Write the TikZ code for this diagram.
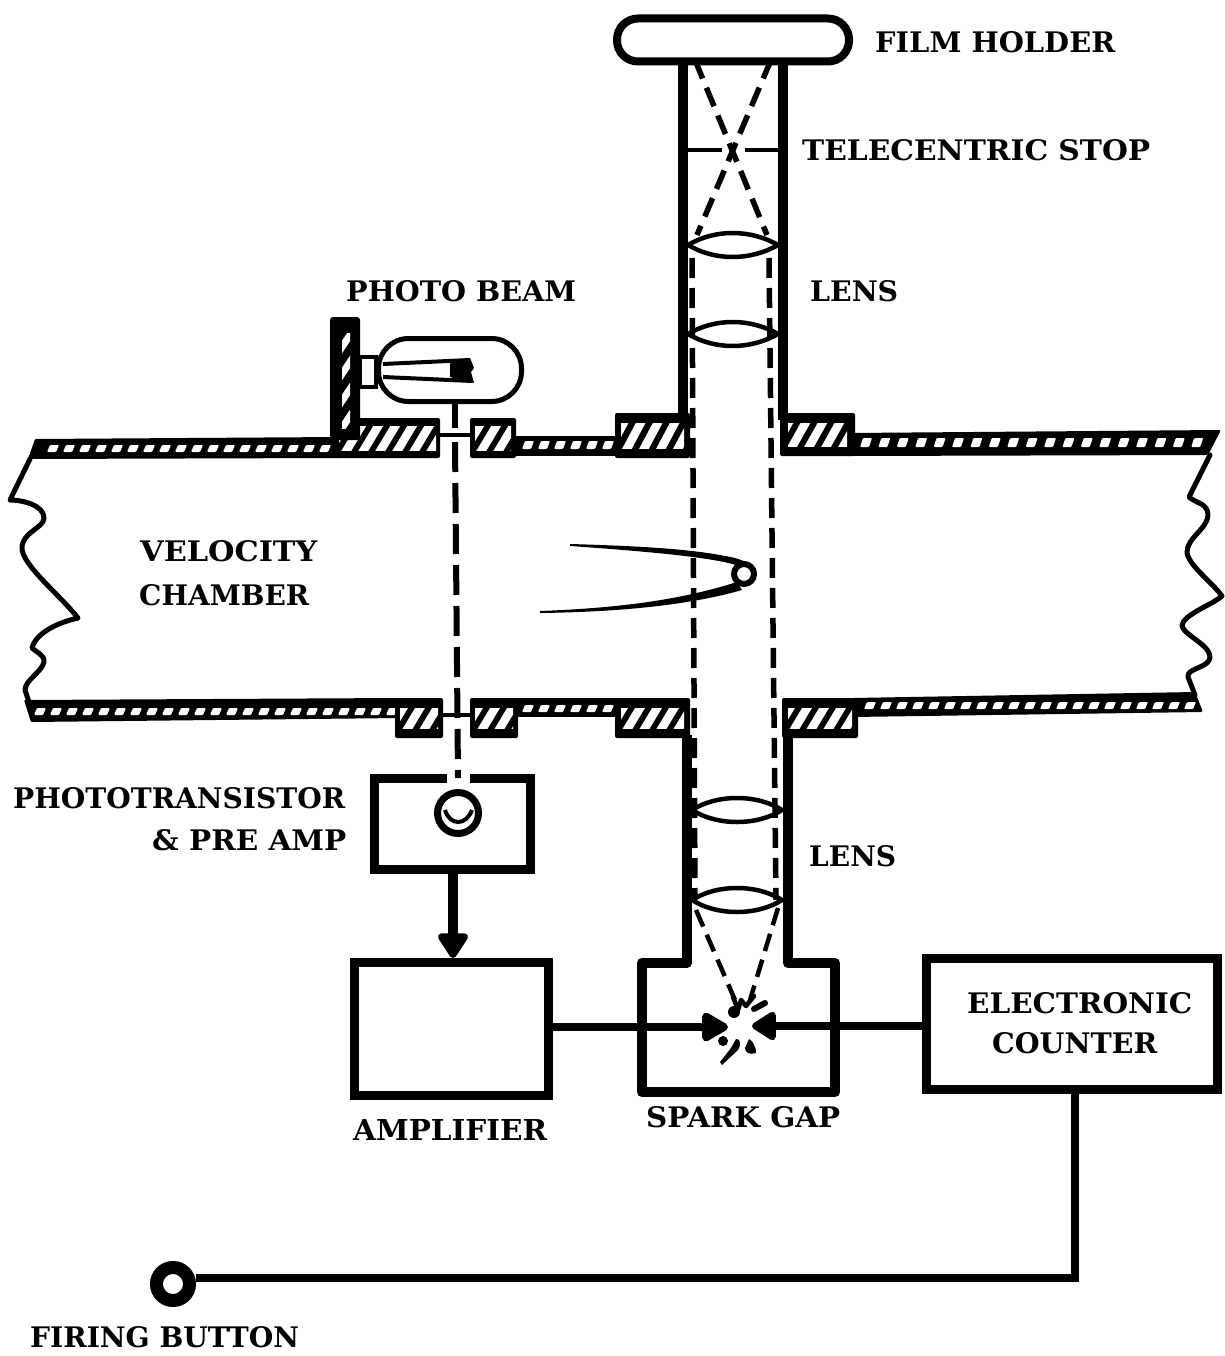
\documentclass[tikz,border=0pt]{standalone}
\usepackage{fontspec}
\setmainfont{DejaVu Serif}
\usetikzlibrary{arrows.meta,calc}
\tikzset{
  wall/.style={line width=10pt,line join=round,line cap=butt},
  boxx/.style={draw,line width=9pt,inner sep=0pt,minimum width=#1},
  beam/.style={line width=6pt,dash pattern=on 30pt off 11pt},
  ray/.style={line width=5.5pt,dash pattern=on 20pt off 10pt},
  wire/.style={line width=8.5pt},
  lab/.style={inner sep=0pt,anchor=west,font=\bfseries},
  lensp/.style={draw,line width=4.5pt,fill=white},
  brk/.style={line width=5pt,line join=round,line cap=round},
}
% label of a given width, real text
\newcommand{\fitlab}[2]{\resizebox{#1pt}{21pt}{#2}}
% black block with white slanted stripes: x0 y0 x1 y1 (outer), inset x, inset y, spacing, white stripe width
\newcommand{\hatchbar}[8]{%
  \fill[black,rounded corners=2pt] (#1,#2) rectangle (#3,#4);
  \begin{scope}
    \clip (#1+#5,#2+#6) rectangle (#3-#5,#4-#6);
    \pgfmathtruncatemacro\hn{(#3-#1)/#7+2}
    \foreach \hi in {0,...,\hn}
      \draw[white,line width=#8pt] ({#1+\hi*#7-10},#4) -- ({#1+\hi*#7+14},#2);
  \end{scope}}
% white dashes in a wall band: first x, count, spacing, inner top, inner bottom
\newcommand{\stripes}[5]{%
  \foreach \si in {0,...,#2}
    \fill[white,rounded corners=1pt] ({#1+\si*#3},#5) -- ({#1+\si*#3+3},#4) -- ({#1+\si*#3+12},#4) -- ({#1+\si*#3+9},#5) -- cycle;}
\begin{document}
\begin{tikzpicture}[x=1pt,y=-1pt]
\useasboundingbox (0,0) rectangle (1224,1356);
\fill[white] (0,0) rectangle (1224,1356);

% --- chamber walls (upper)
\fill[rounded corners=1pt] (35,439) -- (340,437) -- (340,458) -- (28,459) -- cycle;
\stripes{47}{17}{16}{445}{452}
\fill (510,436) rectangle (620,456);
\stripes{522}{5}{16}{441}{449}
\fill[rounded corners=2pt] (850,433) -- (1221,430) -- (1208,455) -- (850,456) -- cycle;
\stripes{860}{18}{18.4}{438}{447}
% --- chamber walls (lower)
\fill[rounded corners=1pt] (24,700) -- (400,698) -- (400,718) -- (31,722) -- cycle;
\stripes{34}{22}{16}{708}{715}
\fill (512,698) rectangle (620,717);
\stripes{522}{5}{16}{705}{712}
\fill[rounded corners=2pt] (852,698) -- (1195,692) -- (1203,712) -- (852,717) -- cycle;
\stripes{864}{20}{16}{702}{709}

% --- collars upper
\hatchbar{335}{418}{440}{458}{4}{8}{17}{8.5}
\hatchbar{470}{418}{516}{458}{5}{8}{17}{8.5}
\hatchbar{615}{413}{690}{458}{6}{10}{17}{8.5}
\hatchbar{780}{413}{855}{456}{8}{10}{17}{8.5}
% --- collars lower
\hatchbar{395}{698}{443}{738}{5}{10}{17}{8.5}
\hatchbar{470}{698}{518}{738}{5}{10}{17}{8.5}
\hatchbar{615}{698}{690}{738}{6}{10}{17}{8.5}
\hatchbar{782}{698}{858}{738}{6}{10}{17}{8.5}
% slits
\draw[line width=4pt] (440,435) -- (470,435);
\draw[line width=4pt] (443,715) -- (470,715);

% chamber broken ends
\draw[brk] (30,459) -- (10,500) .. controls (22,500) and (44,505) .. (44,518)
  .. controls (44,528) and (22,532) .. (22,548) .. controls (22,565) and (60,595) .. (78,618)
  .. controls (60,622) and (36,632) .. (32,648) .. controls (36,652) and (45,655) .. (44,662)
  .. controls (42,672) and (25,680) .. (25,690) -- (29,702);
\draw[brk] (1210,455) -- (1189,497) .. controls (1195,503) and (1208,503) .. (1208,515)
  .. controls (1208,528) and (1187,538) .. (1187,552) .. controls (1188,565) and (1210,580) .. (1222,596)
  .. controls (1212,605) and (1182,615) .. (1182,626) .. controls (1184,635) and (1210,645) .. (1210,657)
  .. controls (1210,668) and (1186,668) .. (1188,677) -- (1195,695);

% --- upper tube
\draw[wall] (683,64) -- (683,420);
\draw[wall] (783,64) -- (783,420);
\draw[line width=4pt] (688,150) -- (722,150) (745,150) -- (778,150);
% lower tube
\draw[wall] (687,735) -- (687,963) -- (642,963) -- (642,1092) -- (835,1092) -- (835,963) -- (788,963) -- (788,735);

% --- lenses
\path[lensp] (688,245) .. controls (715,229) and (750,229) .. (778,245) .. controls (750,261) and (715,261) .. (688,245);
\path[lensp] (688,334) .. controls (715,318) and (750,318) .. (778,334) .. controls (750,350) and (715,350) .. (688,334);
\path[lensp] (692,810) .. controls (717,794) and (757,794) .. (782,810) .. controls (757,826) and (717,826) .. (692,810);
\path[lensp] (692,900) .. controls (717,884) and (757,884) .. (782,900) .. controls (757,916) and (717,916) .. (692,900);

% --- rays
\draw[ray] (695,60) -- (767,235);
\draw[ray] (771,60) -- (697,235);
\draw[ray] (692,258) -- (695,900);
\draw[ray] (769,258) -- (776,900);
\draw[ray,line width=4.5pt,dash pattern=on 18pt off 9pt] (696,910) -- (735,1000);
\draw[ray,line width=4.5pt,dash pattern=on 18pt off 9pt] (778,908) -- (750,1000);

% --- film holder
\node[draw,line width=8pt,rounded corners=21pt,minimum width=232pt,minimum height=43pt,inner sep=0pt,fill=white] (film) at (733,40) {};

% --- lamp
\fill[rounded corners=3pt] (330,317) rectangle (360,440);
\begin{scope}
  \clip (342,333) rectangle (350,428);
  \foreach \hy in {335,362,...,440} \draw[white,line width=7pt] (338,\hy+18) -- (354,\hy-6);
\end{scope}
\draw[line width=4pt,fill=white] (360,357) rectangle (376,387);
\node[draw,line width=5pt,rounded corners=30pt,minimum width=143pt,minimum height=63pt,inner sep=0pt,fill=white] (bulb) at (450,370) {};
\draw[line width=4pt] (383,364) -- (470,360);
\draw[line width=4pt] (383,377) -- (472,381);
\fill (450,361) -- (470,358) -- (474,368) -- (471,372) -- (474,383) -- (450,377) -- cycle;
\coordinate (beamstart) at (455,402);
\coordinate (beamend) at (458,778);
\draw[line width=6pt] (beamstart) -- (455,428);
\draw[beam] (455,442) -- (beamend);

% --- phototransistor box (gap at the top)
\draw[line width=9pt,line join=miter] (447,778) -- (374,778) -- (374,869) -- (530,869) -- (530,778) -- (470,778);
\coordinate (ptbot) at (453,869);
\node[circle,draw,line width=7pt,minimum size=41pt,inner sep=0pt] (pt) at (458,813) {};
\draw[line width=4pt] (445,810) .. controls (450,826) and (466,826) .. (472,810);

% --- boxes
\node[boxx=194pt,minimum height=133pt] (amp) at (451.5,1029) {};
\node[boxx=291pt,minimum height=131pt] (counter) at (1072,1024) {};
\node[circle,draw,line width=13pt,minimum size=33pt,inner sep=0pt] (fire) at (173,1284) {};

% --- connectors
\draw[line width=10pt,-{Triangle[length=28pt,width=34pt,round]}] (ptbot) -- (amp.north -| ptbot);
\coordinate (sparkL) at (728,1027);
\coordinate (sparkR) at (752,1026);
\draw[wire,-{Triangle[length=30pt,width=32pt,round]}] (amp.east |- sparkL) -- (sparkL);
\draw[wire,-{Triangle[length=27pt,width=32pt,round]}] (counter.west |- sparkR) -- (sparkR);
\coordinate (bend) at (1075,1278);
\draw[wire,line width=7.5pt,line join=miter] (counter.south -| bend) -- (bend) -- (fire.east |- bend);

% --- spark marks
\draw[line width=4.5pt,line join=round,line cap=round] (733,997) -- (738,1010) -- (741,1000) -- (746,1006) -- (754,996);
\draw[line width=6pt,line cap=round] (754,1009) -- (765,1003);
\fill (734,1012) circle (6pt);
\fill (723,1041) circle (5pt);
\fill (736,1039) .. controls (741,1038) and (741,1046) .. (738,1050) -- (722,1065) -- (720,1062) -- (731,1048) -- cycle;
\fill (749,1039) .. controls (753,1040) and (757,1050) .. (756,1053) .. controls (750,1055) and (745,1053) .. (745,1048) -- cycle;

% --- projectile
\fill (570,544) .. controls (640,546) and (690,549) .. (725,556) .. controls (745,559) and (755,566) .. (756,574)
  -- (748,570) .. controls (735,562) and (700,555) .. (570,546) -- cycle;
\fill (540,611) .. controls (620,608) and (680,600) .. (737,582) -- (742,590) .. controls (690,605) and (620,612) .. (540,613) -- cycle;
\node[circle,draw,line width=6pt,minimum size=20pt,inner sep=0pt,fill=white] (shot) at (744,574) {};

% --- labels
\node[lab] (l1) at (875,42) {\fitlab{240}{FILM HOLDER}};
\node[lab] (l2) at (802,150) {\fitlab{348}{TELECENTRIC STOP}};
\node[lab] (l3) at (810,291) {\fitlab{88}{LENS}};
\node[lab] (l4) at (346,291) {\fitlab{230}{PHOTO BEAM}};
\node[lab] (l5) at (140,551) {\fitlab{177}{VELOCITY}};
\node[lab] (l6) at (139,595) {\fitlab{170}{CHAMBER}};
\node[lab] (l7) at (13,798) {\fitlab{332}{PHOTOTRANSISTOR}};
\node[lab] (l8) at (152,840) {\fitlab{194}{\& PRE AMP}};
\node[lab] (l9) at (809,856) {\fitlab{87}{LENS}};
\node[lab] (l10) at (353,1130) {\fitlab{194}{AMPLIFIER}};
\node[lab] (l11) at (646,1117) {\fitlab{194}{SPARK GAP}};
\node[lab] (l12) at (967,1003) {\fitlab{225}{ELECTRONIC}};
\node[lab] (l13) at (992,1043) {\fitlab{165}{COUNTER}};
\node[lab] (l14) at (30,1337) {\fitlab{269}{FIRING BUTTON}};
\end{tikzpicture}
\end{document}
